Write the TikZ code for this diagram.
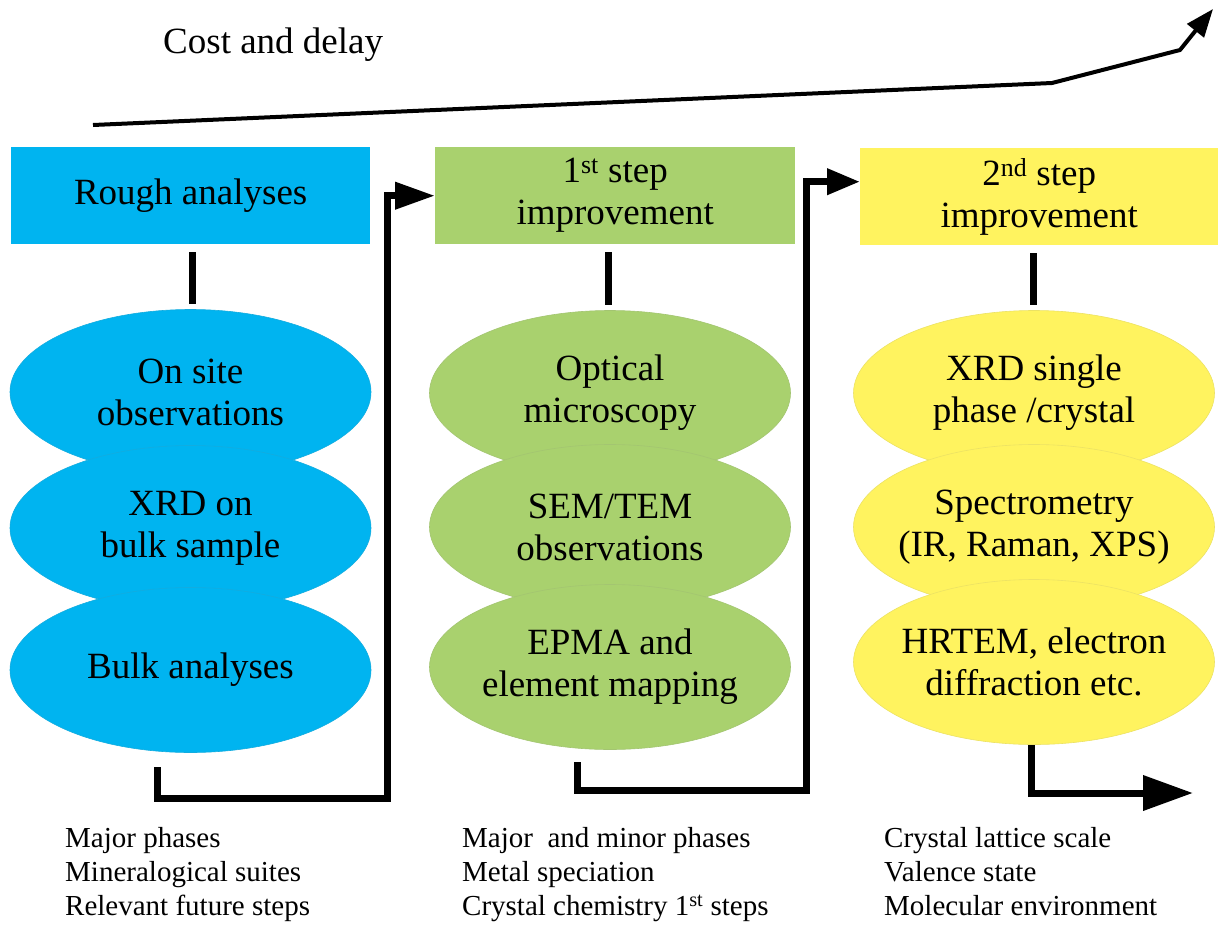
\documentclass[tikz,border=0pt]{standalone}
\usepackage{fontspec}
\setmainfont{Liberation Serif}
\usetikzlibrary{shapes.geometric,arrows.meta}
\definecolor{cblue}{HTML}{00B4F0}
\definecolor{cgreen}{HTML}{A9D16E}
\definecolor{cyellow}{HTML}{FFF35F}
\begin{document}
\begin{tikzpicture}[x=1pt,y=-1pt,
  hdr/.style={fill=#1, anchor=north west, minimum height=97pt, inner sep=0pt,
    align=center, font=\fontsize{37}{42}\selectfont},
  ell/.style={ellipse, fill=#1, draw=#1!85!gray, line width=0.6pt,
    minimum width=361pt, minimum height=165pt, inner xsep=-40pt, inner ysep=0pt,
    align=center, font=\fontsize{37}{42}\selectfont},
  stub/.style={line width=7pt},
  conn/.style={line width=7pt},
  note/.style={anchor=north west, inner sep=0pt, align=left,
    font=\fontsize{29}{34}\selectfont},
]
\useasboundingbox (0,0) rectangle (1221,927);

% top cost arrow
\node[anchor=base west, inner sep=0pt, font=\fontsize{37}{42}\selectfont] (cost) at (163,53) {Cost and delay};
\coordinate (t0) at (93,125);
\coordinate (t1) at (1052,83);
\coordinate (t2) at (1180,50);
\coordinate (t3) at (1213,9);
\draw[line width=4pt, line join=round, -{Triangle[length=28pt,width=21pt]}] (t0) -- (t1) -- (t2) -- (t3);

% header boxes
\node[hdr=cblue, minimum width=359pt] (b1) at (11,147) {Rough analyses};
\node[hdr=cgreen, minimum width=360pt] (b2) at (435,147) {1\textsuperscript{st} step\\improvement};
\node[hdr=cyellow, minimum width=358pt] (b3) at (860,148) {2\textsuperscript{nd} step\\improvement};

% ellipses
\node[ell=cblue] (e11) at (190.5,392) {On site\\observations};
\node[ell=cblue] (e12) at (190.5,528) {XRD on\\bulk sample};
\node[ell=cblue] (e13) at (190.5,670) {Bulk analyses};

\node[ell=cgreen] (e21) at (610,393) {Optical\\microscopy};
\node[ell=cgreen] (e22) at (610,527) {SEM/TEM\\observations};
\node[ell=cgreen] (e23) at (610,667) {EPMA and\\element mapping};

\node[ell=cyellow] (e31) at (1034,393) {XRD single\\phase /crystal};
\node[ell=cyellow] (e32) at (1034,527) {Spectrometry\\(IR, Raman, XPS)};
\node[ell=cyellow] (e33) at (1034,662) {HRTEM, electron\\diffraction etc.};

% stubs
\draw[stub] (e11.north |- b1.south) ++(2,8) -- ([xshift=2pt,yshift=5pt]e11.north);
\draw[stub] (e21.north |- b2.south) ++(-2,8) -- ([xshift=-2pt,yshift=5pt]e21.north);
\draw[stub] (e31.north |- b3.south) ++(-1,8) -- ([xshift=-1pt,yshift=5pt]e31.north);

% connectors
\coordinate (c1s) at (157,767);
\coordinate (k1) at (387,798);
\draw[conn, -{Triangle[length=40pt,width=26pt]}] (c1s) |- (k1) |- (b2.west);

\coordinate (c2s) at (577,762);
\coordinate (k2) at (806,790);
\draw[conn, -{Triangle[length=33pt,width=25pt]}] (c2s) |- (k2) |- ([yshift=15pt]b3.west);

\coordinate (c3s) at (1031,745);
\coordinate (c3e) at (1193,793);
\draw[conn, -{Triangle[length=50pt,width=34pt]}] (c3s) |- (c3e);

% notes
\node[note] (n1) at (65,827) {Major phases\\Mineralogical suites\\Relevant future steps};
\node[note] (n2) at (462,827) {Major\ \ and minor phases\\Metal speciation\\Crystal chemistry 1\textsuperscript{st} steps};
\node[note] (n3) at (884,827) {Crystal lattice scale\\Valence state\\Molecular environment};
\end{tikzpicture}
\end{document}
